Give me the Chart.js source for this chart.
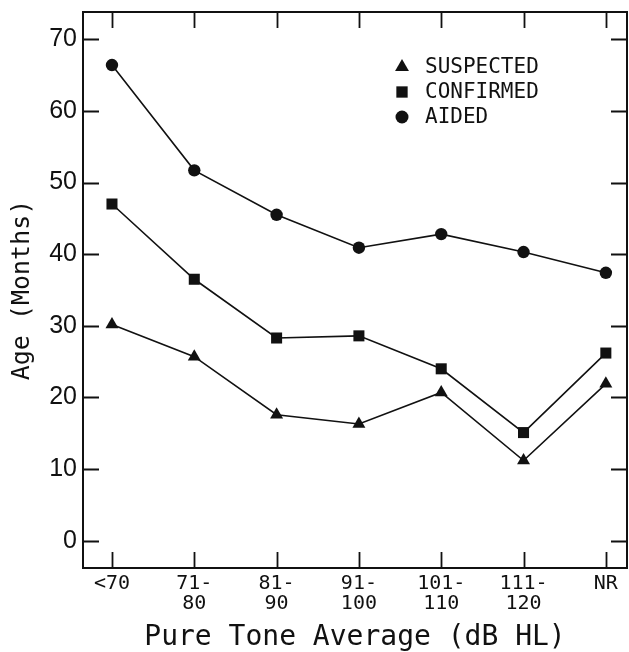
<!DOCTYPE html>
<html>
<head>
<meta charset="utf-8">
<script src="https://cdn.jsdelivr.net/npm/chart.js@4.4.1/dist/chart.umd.min.js"></script>
<style>
  html, body { margin: 0; padding: 0; background: #fff; }
  #wrap { width: 629px; height: 652px; position: relative; }
</style>
</head>
<body>
<div id="wrap"><canvas id="c"></canvas></div>
<script>
// Hearing-loss categories (pure tone average, dB HL)
const categories = [['<70'], ['71-', '80'], ['81-', '90'], ['91-', '100'], ['101-', '110'], ['111-', '120'], ['NR']];
// Mean age in months at each milestone
const suspected = [30.2, 25.7, 17.6, 16.3, 20.7, 11.2, 21.9];
const confirmed = [47.0, 36.5, 28.3, 28.6, 24.0, 15.1, 26.2];
const aided     = [66.4, 51.7, 45.5, 40.9, 42.8, 40.3, 37.4];
const yTicks = [0, 10, 20, 30, 40, 50, 60, 70];

const INK = '#111';
const toPoints = arr => arr.map((v, i) => ({ x: i, y: v }));

function series(label, values, style, radius) {
  return {
    label,
    data: toPoints(values),
    borderColor: INK,
    backgroundColor: INK,
    borderWidth: 1.6,
    pointStyle: style,
    pointRadius: radius,
    pointHoverRadius: radius,
    pointBackgroundColor: INK,
    pointBorderColor: INK,
    pointBorderWidth: 0,
    tension: 0,
    fill: false
  };
}

// Scales must not push the plot area inward for overhanging labels
function noPadding(s) {
  s.paddingTop = 0; s.paddingBottom = 0; s.paddingLeft = 0; s.paddingRight = 0;
}

// Frame around the plot with inward tick marks on all four sides
const framePlugin = {
  id: 'frame',
  afterDatasetsDraw(chart) {
    const { ctx, chartArea: a, scales } = chart;
    const len = 16;
    ctx.save();
    ctx.strokeStyle = INK;
    ctx.lineWidth = 2;
    ctx.strokeRect(a.left, a.top, a.right - a.left, a.bottom - a.top);
    ctx.lineWidth = 1.8;
    ctx.beginPath();
    scales.x.ticks.forEach(t => {
      const px = Math.round(scales.x.getPixelForValue(t.value)) + 0.5;
      ctx.moveTo(px, a.bottom); ctx.lineTo(px, a.bottom - len);
      ctx.moveTo(px, a.top); ctx.lineTo(px, a.top + len);
    });
    scales.y.ticks.forEach(t => {
      const py = Math.round(scales.y.getPixelForValue(t.value)) + 0.5;
      ctx.moveTo(a.left, py); ctx.lineTo(a.left + len, py);
      ctx.moveTo(a.right, py); ctx.lineTo(a.right - len, py);
    });
    ctx.stroke();
    ctx.restore();
  }
};

// Key in the upper part of the plot
const keyPlugin = {
  id: 'key',
  afterDatasetsDraw(chart) {
    const { ctx } = chart;
    const x0 = 402, y0 = 67, step = 25;
    ctx.save();
    ctx.font = '21px "DejaVu Sans Mono"';
    ctx.textBaseline = 'middle';
    ctx.textAlign = 'left';
    chart.data.datasets.forEach((ds, i) => {
      const y = y0 + i * step;
      ctx.fillStyle = INK;
      ctx.strokeStyle = INK;
      Chart.helpers.drawPoint(ctx, {
        pointStyle: ds.pointStyle,
        radius: ds.pointStyle === 'rect' ? 8 : (ds.pointStyle === 'triangle' ? 8 : 6.5),
        borderWidth: 0,
        rotation: 0
      }, x0, y);
      ctx.fillText(ds.label, x0 + 23, y + 1);
    });
    ctx.restore();
  }
};

new Chart(document.getElementById('c'), {
  type: 'line',
  data: {
    datasets: [
      series('SUSPECTED', suspected, 'triangle', 7.5),
      series('CONFIRMED', confirmed, 'rect', 7.8),
      series('AIDED', aided, 'circle', 6.2)
    ]
  },
  options: {
    responsive: true,
    maintainAspectRatio: false,
    animation: false,
    events: [],
    layout: { autoPadding: false, padding: { top: 12, right: 2, left: 0, bottom: 0 } },
    plugins: { legend: { display: false }, tooltip: { enabled: false } },
    scales: {
      x: {
        type: 'linear',
        min: -0.352,
        max: 6.257,
        grid: { display: false, drawTicks: false },
        border: { display: false },
        afterBuildTicks: s => { s.ticks = categories.map((_, i) => ({ value: i })); },
        afterFit: s => { s.height = 84; noPadding(s); },
        ticks: {
          autoSkip: false,
          maxRotation: 0,
          padding: 6,
          color: INK,
          font: { family: '"DejaVu Sans Mono"', size: 20, lineHeight: 1.0 },
          callback: v => categories[v] || ''
        },
        title: {
          display: true,
          text: 'Pure Tone Average (dB HL)',
          color: INK,
          font: { family: '"DejaVu Sans Mono"', size: 28, lineHeight: 1.0 },
          padding: 0
        }
      },
      y: {
        min: -3.8,
        max: 73.8,
        grid: { display: false, drawTicks: false },
        border: { display: false },
        afterBuildTicks: s => { s.ticks = yTicks.map(v => ({ value: v })); },
        afterFit: s => { s.width = 83; noPadding(s); },
        ticks: {
          padding: 6,
          color: INK,
          font: { family: '"Liberation Sans"', size: 25 }
        },
        title: {
          display: true,
          text: 'Age (Months)',
          color: INK,
          font: { family: '"DejaVu Sans Mono"', size: 25, lineHeight: 1.0 },
          padding: { top: 10, bottom: 0 }
        }
      }
    }
  },
  plugins: [framePlugin, keyPlugin]
});
</script>
</body>
</html>
